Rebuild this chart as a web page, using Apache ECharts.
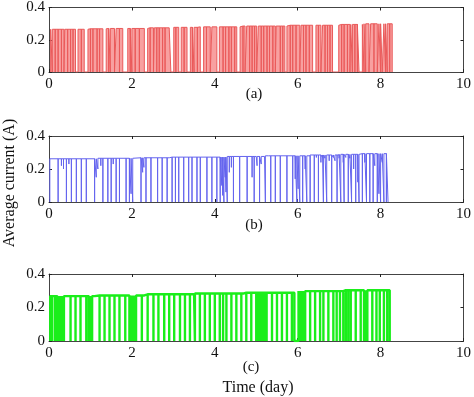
<!DOCTYPE html>
<html>
<head>
<meta charset="utf-8">
<script src="https://cdn.jsdelivr.net/npm/echarts@6/dist/echarts.min.js"></script>
<style>
  html, body { margin: 0; padding: 0; background: #fff; }
  #chart { width: 474px; height: 397px; }
</style>
</head>
<body>
<div id="chart"></div>
<script>
// x axis ticks (day) and y ticks (A)
const xTicks = [0, 10, 2]
const yTicks = [0, 0.4, 0.2]

// panel (a): start/end of record, level steps, white gaps [start, end], single drops
const aRange = [0.04, 8.28]
const aLevelT = [0, 0.95, 1.39, 2.39, 2.9, 3.6, 4.62, 5.76, 7.0, 7.58]
const aLevelV = [0.265, 0.268, 0.27, 0.274, 0.277, 0.28, 0.285, 0.29, 0.295, 0.299]
const aGaps = [
  [0.36, 0.38], [0.64, 0.70], [0.85, 0.94], [1.30, 1.38], [1.58, 1.62], [1.78, 1.90],
  [2.30, 2.38], [2.52, 2.54], [2.94, 3.01], [3.13, 3.19], [3.33, 3.41], [3.65, 3.73],
  [3.89, 3.93], [4.05, 4.11], [4.53, 4.61], [4.73, 4.77], [5.01, 5.05], [5.46, 5.48],
  [5.69, 5.74], [6.05, 6.08], [6.36, 6.44], [6.56, 6.60], [6.84, 6.99], [7.26, 7.28],
  [7.48, 7.56], [7.72, 7.76], [7.92, 7.96], [8.04, 8.08]
]
const aDrops = [
  0.08, 0.15, 0.22, 0.30, 0.45, 0.52, 0.58, 0.78, 1.00, 1.06, 1.16, 1.22, 1.44, 1.48,
  1.70, 1.96, 2.00, 2.08, 2.18, 2.44, 2.60, 2.66, 2.74, 2.80, 3.06, 3.26, 3.46, 3.50,
  3.58, 3.80, 4.20, 4.26, 4.34, 4.40, 4.48, 4.68, 4.84, 4.90, 4.96, 5.12, 5.18, 5.26,
  5.32, 5.40, 5.58, 5.64, 5.82, 5.88, 5.96, 6.14, 6.20, 6.28, 6.50, 6.66, 6.72, 6.78,
  7.06, 7.12, 7.20, 7.32, 7.38, 7.44, 7.60, 7.64, 7.84, 8.00, 8.12, 8.16, 8.22
]

// panel (b): drops as [time, lowest value]
const bRange = [0.02, 8.18]
const bLevelT = [0, 1.15, 2.05, 2.9, 4.3, 5.2, 6.3, 7.0, 7.5]
const bLevelV = [0.262, 0.265, 0.268, 0.272, 0.276, 0.28, 0.285, 0.289, 0.293]
const bDrops = [
  [0.22, 0], [0.30, 0.22], [0.35, 0.20], [0.42, 0], [0.48, 0.23], [0.54, 0], [0.66, 0],
  [0.78, 0], [0.90, 0], [1.10, 0], [1.14, 0.15], [1.18, 0.20], [1.25, 0.22], [1.30, 0],
  [1.42, 0], [1.50, 0], [1.55, 0.23], [1.62, 0], [1.70, 0], [1.86, 0], [1.94, 0],
  [1.98, 0.05], [2.02, 0], [2.22, 0], [2.26, 0.18], [2.29, 0.21], [2.34, 0], [2.46, 0],
  [2.62, 0], [2.73, 0], [2.85, 0], [2.97, 0], [3.05, 0], [3.13, 0], [3.25, 0], [3.37, 0],
  [3.45, 0], [3.57, 0], [3.65, 0], [3.81, 0], [3.93, 0], [4.05, 0], [4.13, 0], [4.17, 0.10],
  [4.19, 0.04], [4.22, 0], [4.25, 0.15], [4.27, 0.06], [4.30, 0], [4.35, 0.18], [4.40, 0.21],
  [4.45, 0], [4.60, 0], [4.78, 0], [4.90, 0.15], [4.95, 0], [5.00, 0.265], [5.02, 0.22],
  [5.08, 0], [5.12, 0.23], [5.22, 0], [5.30, 0.27], [5.35, 0], [5.46, 0], [5.58, 0],
  [5.74, 0], [5.88, 0], [5.94, 0.14], [5.98, 0], [6.01, 0.08], [6.05, 0], [6.12, 0],
  [6.18, 0.20], [6.22, 0], [6.30, 0], [6.40, 0], [6.45, 0.27], [6.50, 0], [6.56, 0.24],
  [6.60, 0.27], [6.62, 0], [6.66, 0.265], [6.70, 0], [6.76, 0.25], [6.82, 0], [6.86, 0.27],
  [6.90, 0.25], [6.95, 0], [7.00, 0.265], [7.04, 0], [7.10, 0.24], [7.12, 0], [7.16, 0.27],
  [7.22, 0], [7.26, 0.265], [7.30, 0], [7.35, 0.20], [7.40, 0], [7.45, 0.12], [7.48, 0],
  [7.56, 0], [7.62, 0.24], [7.66, 0], [7.74, 0], [7.82, 0], [7.86, 0.22], [7.92, 0],
  [7.96, 0.05], [8.00, 0], [8.04, 0.24], [8.08, 0], [8.14, 0]
]

// panel (c): one long off period and single drops
const cRange = [0.03, 8.22]
const cLevelT = [0, 1.1, 2.3, 3.5, 4.7, 6.02, 7.12]
const cLevelV = [0.268, 0.272, 0.279, 0.284, 0.288, 0.298, 0.303]
const cOffs = [[5.92, 6.02]]
const cDrops = [
  0.08, 0.15, 0.20, 0.24, 0.28, 0.32, 0.36, 0.52, 0.64, 0.76, 0.90, 0.96, 1.00, 1.04,
  1.22, 1.34, 1.46, 1.58, 1.70, 1.84, 1.94, 1.98, 2.02, 2.06, 2.10, 2.24, 2.38, 2.52,
  2.64, 2.78, 2.90, 3.02, 3.16, 3.28, 3.40, 3.52, 3.64, 3.76, 3.88, 4.00, 4.12, 4.20,
  4.28, 4.40, 4.52, 4.64, 4.76, 4.88, 5.00, 5.05, 5.10, 5.15, 5.20, 5.25, 5.38, 5.50,
  5.62, 5.74, 5.86, 6.06, 6.10, 6.14, 6.18, 6.30, 6.42, 6.54, 6.62, 6.74, 6.86, 6.94,
  7.02, 7.10, 7.16, 7.22, 7.28, 7.40, 7.52, 7.60, 7.64, 7.68, 7.80, 7.90, 7.98, 8.08, 8.16
]

function levelAt(ts, vs, t) {
  let v = vs[0]
  for (let i = 0; i < ts.length; i++) if (t >= ts[i]) v = vs[i]
  return v
}

// events: [start, end, low] -> step trace
function buildTrace(range, levelT, levelV, events) {
  const lev = (t) => levelAt(levelT, levelV, t)
  const marks = events.map((e) => ({ t: e[0], e }))
    .concat(levelT.filter((t) => t > range[0]).map((t) => ({ t, step: true })))
  marks.sort((p, q) => p.t - q.t)
  let cur = lev(range[0])
  const pts = [[range[0], 0], [range[0], cur]]
  marks.forEach((m) => {
    const lastX = pts[pts.length - 1][0]
    if (m.step) {
      if (m.t >= lastX) {
        pts.push([m.t, cur])
        cur = lev(m.t)
        pts.push([m.t, cur])
      } else {
        cur = lev(m.t)
      }
      return
    }
    const [s, e, low] = m.e
    pts.push([s, cur], [s, low], [e, low])
    cur = lev(e)
    pts.push([e, cur])
  })
  pts.push([range[1], cur], [range[1], 0])
  return pts
}

const traceA = buildTrace(aRange, aLevelT, aLevelV,
  aGaps.map((g) => [g[0], g[1], 0]).concat(aDrops.map((t) => [t, t, 0])))
const traceB = buildTrace(bRange, bLevelT, bLevelV, bDrops.map((d) => [d[0], d[0], d[1]]))
const traceC = buildTrace(cRange, cLevelT, cLevelV,
  cOffs.map((g) => [g[0], g[1], 0]).concat(cDrops.map((t) => [t, t, 0])))

const font = 'Liberation Serif'
const axisColor = '#444'
const grids = [
  { left: 49, top: 5, width: 418, height: 67 },
  { left: 49, top: 136, width: 418, height: 66 },
  { left: 49, top: 274, width: 418, height: 67 }
]

const xAxis = []
const yAxis = []
grids.forEach((g, i) => {
  const base = {
    gridIndex: i, type: 'value',
    axisLine: { show: true, onZero: false, lineStyle: { color: axisColor, width: 1 } },
    axisTick: { show: true, inside: true, length: 3, lineStyle: { color: '#222' } },
    splitLine: { show: false }
  }
  xAxis.push({
    ...base, position: 'bottom', min: xTicks[0], max: xTicks[1], interval: xTicks[2],
    axisLabel: { color: '#111', fontFamily: font, fontSize: 15, margin: 5, showMaxLabel: true }
  })
  xAxis.push({
    ...base, position: 'top', min: xTicks[0], max: xTicks[1], interval: xTicks[2],
    axisLabel: { show: false }
  })
  yAxis.push({
    ...base, position: 'left', min: yTicks[0], max: yTicks[1], interval: yTicks[2],
    axisLabel: { color: '#111', fontFamily: font, fontSize: 15, margin: 4 }
  })
  yAxis.push({
    ...base, position: 'right', min: yTicks[0], max: yTicks[1], interval: yTicks[2],
    axisLabel: { show: false }
  })
})

const lineBase = { type: 'line', showSymbol: false, symbol: 'none', animation: false, z: 2 }

const option = {
  animation: false,
  backgroundColor: '#fff',
  grid: grids,
  xAxis,
  yAxis,
  series: [
    {
      ...lineBase, name: '(a)', xAxisIndex: 0, yAxisIndex: 0, data: traceA,
      lineStyle: { color: '#ea5a5a', width: 1 },
      areaStyle: { color: '#f8a0a0', opacity: 1 }
    },
    {
      ...lineBase, name: '(b)', xAxisIndex: 2, yAxisIndex: 2, data: traceB,
      lineStyle: { color: '#6464ee', width: 1 }
    },
    {
      ...lineBase, name: '(c)', xAxisIndex: 4, yAxisIndex: 4, data: traceC,
      lineStyle: { color: '#1aee1a', width: 2.4 }
    }
  ],
  graphic: [
    { type: 'text', x: 254, y: 94, style: { text: '(a)', font: '15px "Liberation Serif"', fill: '#111', align: 'center', verticalAlign: 'middle' } },
    { type: 'text', x: 254, y: 225, style: { text: '(b)', font: '15px "Liberation Serif"', fill: '#111', align: 'center', verticalAlign: 'middle' } },
    { type: 'text', x: 251, y: 367, style: { text: '(c)', font: '15px "Liberation Serif"', fill: '#111', align: 'center', verticalAlign: 'middle' } },
    { type: 'text', x: 258, y: 388, style: { text: 'Time (day)', font: '16px "Liberation Serif"', fill: '#111', align: 'center', verticalAlign: 'middle' } },
    { type: 'text', x: 10, y: 183, rotation: Math.PI / 2, style: { text: 'Average current (A)', font: '16px "Liberation Serif"', fill: '#111', align: 'center', verticalAlign: 'middle' } }
  ]
}

const chart = echarts.init(document.getElementById('chart'), null, { renderer: 'canvas' })
chart.setOption(option)
window.addEventListener('resize', function () {
  chart.resize()
})
</script>
</body>
</html>
